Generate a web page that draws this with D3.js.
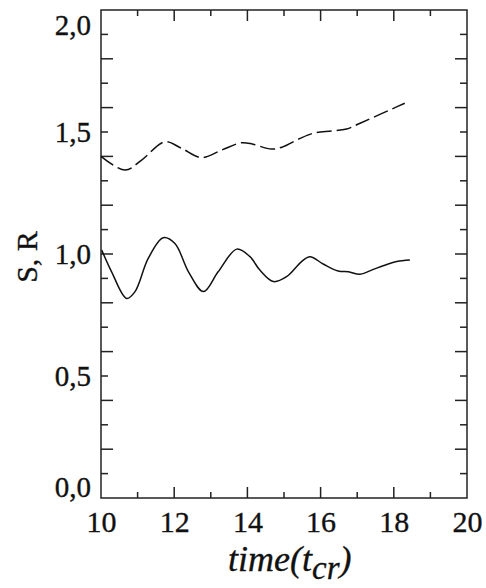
<!DOCTYPE html>
<html>
<head>
<meta charset="utf-8">
<script src="https://cdn.jsdelivr.net/npm/d3@7"></script>
<style>
  body { margin: 0; background: #fff; }
  text { font-family: "Liberation Serif", "Times New Roman", serif; fill: #111; stroke: #111; stroke-width: 0.35px; }
</style>
</head>
<body>
<div id="chart"></div>
<script>
// values
var sTime = [10.02, 10.29, 10.7, 10.93, 11.29, 11.7, 12.02, 12.39, 12.8, 13.2, 13.71, 14.07, 14.34, 14.71, 15.07, 15.48, 15.71, 16.07, 16.48, 16.76, 17.08, 17.44, 17.71, 18.08, 18.44]
var sValue = [1.016, 0.927, 0.818, 0.846, 0.982, 1.067, 1.043, 0.927, 0.846, 0.927, 1.02, 0.989, 0.934, 0.887, 0.907, 0.969, 0.989, 0.959, 0.930, 0.927, 0.917, 0.937, 0.952, 0.969, 0.975]

var rTime = [10.0, 10.66, 11.11, 11.75, 12.2, 12.75, 13.3, 13.84, 14.15, 14.66, 14.98, 15.44, 15.85, 16.3, 16.71, 17.08, 17.53, 17.99, 18.3]
var rValue = [1.40, 1.344, 1.385, 1.46, 1.433, 1.395, 1.426, 1.456, 1.45, 1.43, 1.44, 1.474, 1.497, 1.504, 1.512, 1.536, 1.566, 1.597, 1.618]

var xLabels = [10, 12, 14, 16, 18, 20]
var yLabels = [0, 0.5, 1.0, 1.5, 2.0]

var margin = {top: 10, right: 19, bottom: 90, left: 101},
    width = 486 - margin.left - margin.right,
    height = 588 - margin.top - margin.bottom;

var svg = d3.select("#chart")
  .append("svg")
    .attr("width", 486)
    .attr("height", 588)
  .append("g")
    .attr("transform", "translate(" + margin.left + "," + margin.top + ")");

var x = d3.scaleLinear().domain([10, 20]).range([0, width])
var y = d3.scaleLinear().domain([0, 2]).range([height, 0])

var fmt = function(d){ return d3.format(".1f")(d).replace(".", ",") }

// frame
svg.append("rect")
  .attr("width", width).attr("height", height)
  .attr("fill", "none").attr("stroke", "#222").attr("stroke-width", 1.5)

// inward ticks on all four sides, long ones every 0.2 / every 2
var yTicks = d3.range(1, 20).map(function(i){ return i / 10 })
var xTicks = d3.range(11, 20)

svg.selectAll(".ytl").data(yTicks).enter().append("line")
  .attr("x1", 0).attr("x2", function(d, i){ return (i % 2 == 1) ? 12 : 7 })
  .attr("y1", function(d){ return y(d) }).attr("y2", function(d){ return y(d) })
  .attr("stroke", "#222").attr("stroke-width", 1.5)
svg.selectAll(".ytr").data(yTicks).enter().append("line")
  .attr("x1", width).attr("x2", function(d, i){ return width - ((i % 2 == 1) ? 12 : 7) })
  .attr("y1", function(d){ return y(d) }).attr("y2", function(d){ return y(d) })
  .attr("stroke", "#222").attr("stroke-width", 1.5)
svg.selectAll(".xtb").data(xTicks).enter().append("line")
  .attr("x1", function(d){ return x(d) }).attr("x2", function(d){ return x(d) })
  .attr("y1", height).attr("y2", function(d){ return height - ((d % 2 == 0) ? 11 : 6) })
  .attr("stroke", "#222").attr("stroke-width", 1.5)
svg.selectAll(".xtt").data(xTicks).enter().append("line")
  .attr("x1", function(d){ return x(d) }).attr("x2", function(d){ return x(d) })
  .attr("y1", 0).attr("y2", function(d){ return (d % 2 == 0) ? 11 : 6 })
  .attr("stroke", "#222").attr("stroke-width", 1.5)

// tick labels
var xAxis = svg.append("g")
  .attr("transform", "translate(0," + height + ")")
  .call(d3.axisBottom(x).tickValues(xLabels).tickSize(0).tickPadding(9).tickFormat(d3.format("d")))
xAxis.select(".domain").remove()
xAxis.selectAll("text").style("font-size", "30px").style("font-family", "Liberation Serif").attr("dy", "0.82em")

var yAxis = svg.append("g")
  .call(d3.axisLeft(y).tickValues(yLabels).tickSize(0).tickPadding(10).tickFormat(fmt))
yAxis.select(".domain").remove()
yAxis.selectAll("text").style("font-size", "29px").style("font-family", "Liberation Serif")
  .attr("dy", function(d){ return d == 0 ? "-0.05em" : (d == 2 ? "0.85em" : "0.32em") })

// curves
svg.append("path")
  .datum(d3.zip(sTime, sValue))
  .attr("fill", "none")
  .attr("stroke", "#111")
  .attr("stroke-width", 1.5)
  .attr("d", d3.line()
    .curve(d3.curveCatmullRom)
    .x(function(d){ return x(d[0]) })
    .y(function(d){ return y(d[1]) }))

svg.append("path")
  .datum(d3.zip(rTime, rValue))
  .attr("fill", "none")
  .attr("stroke", "#111")
  .attr("stroke-width", 1.5)
  .attr("stroke-dasharray", "15,5")
  .attr("d", d3.line()
    .curve(d3.curveCatmullRom)
    .x(function(d){ return x(d[0]) })
    .y(function(d){ return y(d[1]) }))

// axis titles
svg.append("text")
  .attr("transform", "translate(" + (26 - margin.left) + "," + (y(1) + 3) + ") rotate(-90)")
  .attr("text-anchor", "middle")
  .attr("dy", "0.35em")
  .style("font-size", "30px")
  .text("S, R")

var xt = svg.append("text")
  .attr("x", 127)
  .attr("y", height + 73)
  .attr("text-anchor", "start")
  .style("font-size", "36px")
  .style("font-style", "italic")
xt.append("tspan").text("time(t")
xt.append("tspan").attr("dy", 8).style("font-size", "33px").text("cr")
xt.append("tspan").attr("dy", -8).text(")")
</script>
</body>
</html>
